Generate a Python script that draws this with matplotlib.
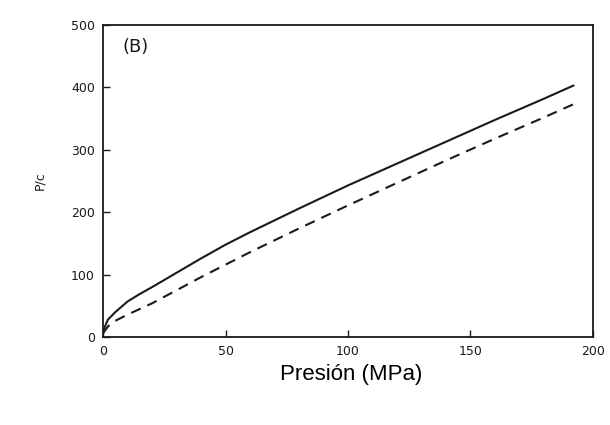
import matplotlib
matplotlib.use("Agg")
import matplotlib.pyplot as plt

# values
pres_solid = [0, 2, 5, 10, 15, 20, 30, 40, 50, 60, 70, 80, 100, 120, 140, 160, 180, 192]
pc_solid = [10, 28, 40, 57, 69, 80, 103, 126, 148, 168, 187, 206, 243, 278, 313, 348, 382, 403]

pres_dash = [0, 2, 5, 10, 15, 20, 30, 40, 50, 60, 70, 80, 100, 120, 140, 160, 180, 192]
pc_dash = [6, 17, 26, 36, 45, 54, 75, 96, 116, 136, 155, 174, 211, 247, 283, 318, 352, 373]

xticks = [0, 50, 100, 150, 200]
yticks = [0, 100, 200, 300, 400, 500]

fig = plt.figure(figsize=(6.1, 4.25), dpi=100)
ax = fig.add_axes([0.169, 0.207, 0.803, 0.734])

ink = "#1a1a1a"
ax.plot(pres_solid, pc_solid, color=ink, lw=1.5)
ax.plot(pres_dash, pc_dash, color=ink, lw=1.5, dashes=(5, 3.5))

ax.set_xlim(0, 200)
ax.set_ylim(0, 500)
ax.set_xticks(xticks)
ax.set_yticks(yticks)
ax.tick_params(direction="in", length=5, width=1, colors=ink,
               labelsize=9, pad=6, top=False, right=False)
for s in ax.spines.values():
    s.set_color(ink)
    s.set_linewidth(1.3)

ax.set_ylabel("P/c", fontsize=9, color=ink, labelpad=18)
ax.text(0.04, 0.96, "(B)", transform=ax.transAxes, fontsize=13,
        ha="left", va="top", color=ink)

fig.text(0.575, 0.118, "Presión (MPa)", fontsize=16, ha="center", va="center",
         family="Liberation Sans", color="black")

fig.savefig("out.png", dpi=100)
